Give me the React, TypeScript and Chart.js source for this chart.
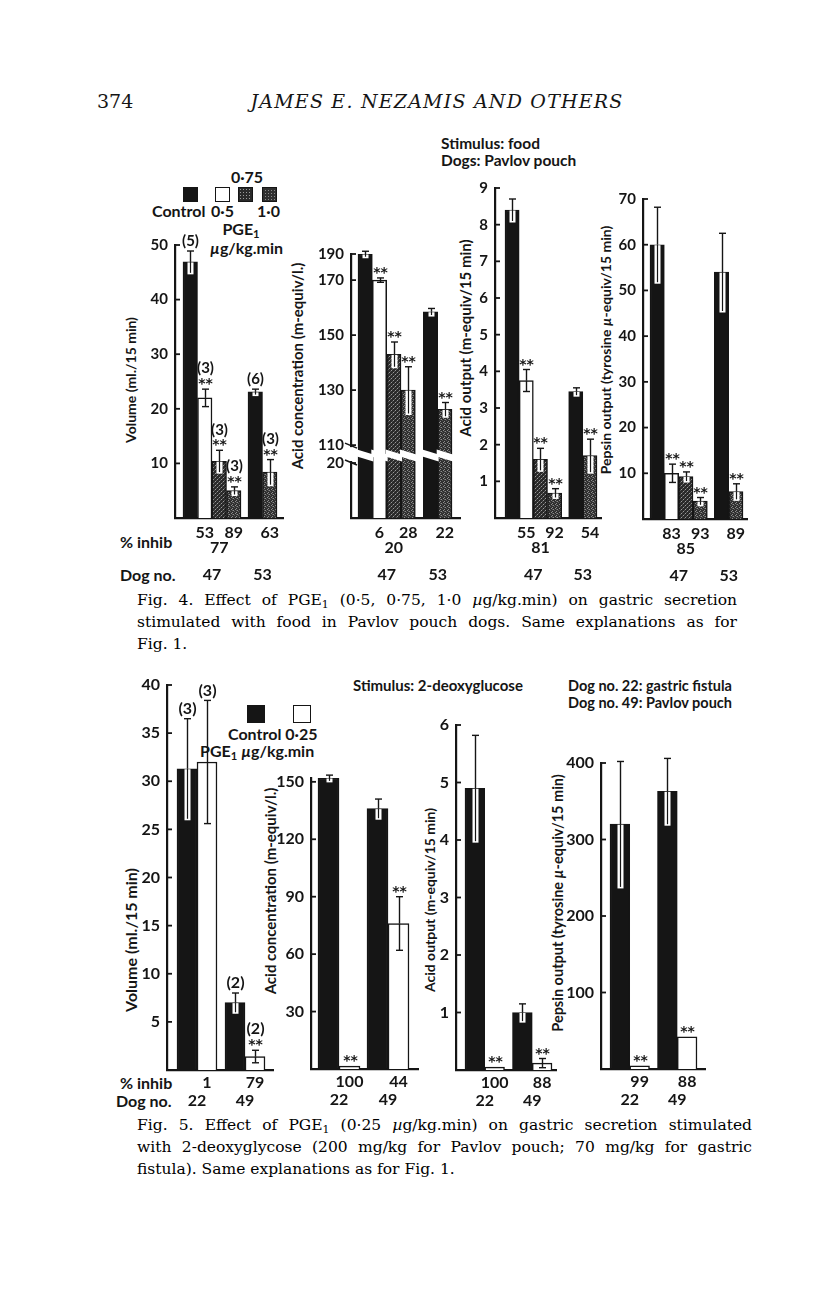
import React, { useEffect, useRef } from "react";
import { Chart, registerables } from "chart.js";

Chart.register(...registerables);

const SANS = "Lato, 'Open Sans', 'DejaVu Sans', sans-serif";
const STAR_FONT = "'DejaVu Sans', sans-serif";
const SERIF = "'DejaVu Serif', 'Liberation Serif', serif";
const INK = "#151515";

// ---------------- Fig. 4 data (stimulus: food, Pavlov pouch) ----------------
const fig4Treatments = ["Control", "0·5", "0·75", "1·0", "Control", "1·0"];
const fig4Dogs = ["47", "47", "47", "47", "53", "53"];
const fig4Stars = ["", "**", "**", "**", "", "**"];

const fig4VolumeMean = [46.9, 22, 10.4, 5.0, 23.1, 8.4];
const fig4VolumeSE = [2, 1.6, 2, 0.7, 0.5, 2.3];
const fig4VolumeN = ["(5)", "(3)", "(3)", "(3)", "(6)", "(3)"];
const fig4VolumeInhib = ["", "53", "77", "89", "", "63"];
const fig4VolumeTicks = [10, 20, 30, 40, 50];

const fig4AcidConcMean = [179.5, 170, 143, 130, 158.5, 123];
const fig4AcidConcSE = [1, 0.8, 4.5, 8.5, 1.2, 2.5];
const fig4AcidConcInhib = ["", "6", "20", "28", "", "22"];
const fig4AcidConcTicks = [20, 110, 130, 150, 170, 190];

const fig4AcidOutMean = [8.4, 3.75, 1.6, 0.68, 3.45, 1.7];
const fig4AcidOutSE = [0.3, 0.3, 0.3, 0.12, 0.1, 0.45];
const fig4AcidOutInhib = ["", "55", "81", "92", "", "54"];
const fig4AcidOutTicks = [1, 2, 3, 4, 5, 6, 7, 8, 9];

const fig4PepsinMean = [60, 10, 9.3, 3.9, 54, 6];
const fig4PepsinSE = [8.2, 2, 1, 0.8, 8.5, 1.7];
const fig4PepsinInhib = ["", "83", "85", "93", "", "89"];
const fig4PepsinTicks = [10, 20, 30, 40, 50, 60, 70];

// ---------------- Fig. 5 data (stimulus: 2-deoxyglucose) ----------------
const fig5Treatments = ["Control", "0·25", "Control", "0·25"];
const fig5Dogs = ["22", "22", "49", "49"];

const fig5VolumeMean = [31.3, 32, 7, 1.4];
const fig5VolumeSE = [5.2, 6.4, 1, 0.65];
const fig5VolumeN = ["(3)", "(3)", "(2)", "(2)"];
const fig5VolumeStars = ["", "", "", "**"];
const fig5VolumeInhib = ["", "1", "", "79"];
const fig5VolumeTicks = [5, 10, 15, 20, 25, 30, 35, 40];

const fig5AcidConcMean = [152, 1.5, 136, 76];
const fig5AcidConcSE = [1.5, 0, 5, 14];
const fig5AcidConcStars = ["", "**", "", "**"];
const fig5AcidConcInhib = ["", "100", "", "44"];
const fig5AcidConcTicks = [30, 60, 90, 120, 150];

const fig5AcidOutMean = [4.9, 0.05, 1.0, 0.12];
const fig5AcidOutSE = [0.92, 0, 0.15, 0.08];
const fig5AcidOutStars = ["", "**", "", "**"];
const fig5AcidOutInhib = ["", "100", "", "88"];
const fig5AcidOutTicks = [1, 2, 3, 4, 5, 6];

const fig5PepsinMean = [320, 4, 363, 42];
const fig5PepsinSE = [82, 0, 43, 0];
const fig5PepsinStars = ["", "**", "", "**"];
const fig5PepsinInhib = ["", "99", "", "88"];
const fig5PepsinTicks = [100, 200, 300, 400];

// broken axis of Fig. 4 acid concentration: 20 ... 110 removed
const BREAK_LOW = 20;
const BREAK_HIGH = 110;
const BREAK_GAP = 6.5;

type Spec = {
  treatments: string[];
  dogs: string[];
  mean: number[];
  se: number[];
  n?: string[];
  stars: string[];
  inhib: string[];
  ticks: number[];
  yMax: number;
  broken?: boolean;
  axisX: number;
  axisEnd: number;
  topY: number;
  baseY: number;
  firstOffset: number;
  gap: number;
  endPad: number;
  tickSize: number;
  annSize: number;
  starSize: number;
  belowSize: number;
  inhibDy: number[];
  dogDy: number;
  lowerRowTreatment?: string;
};

const LPAD = 44;
const TPAD = 44;
const RPAD = 12;
const BPAD = 70;

let patCache: Record<string, CanvasPattern | string> = {};
function pattern(kind: string): CanvasPattern | string {
  if (patCache[kind]) return patCache[kind];
  const c = document.createElement("canvas");
  c.width = 4;
  c.height = 4;
  const g = c.getContext("2d");
  if (!g) return "#444";
  g.fillStyle = kind === "a" ? "#2a2a2a" : "#303030";
  g.fillRect(0, 0, 4, 4);
  if (kind === "a") {
    g.fillStyle = "#9a9a9a";
    [[0, 0], [2, 2]].forEach(([x, y]) => g.fillRect(x, y, 1, 1));
    g.fillStyle = "#585858";
    [[3, 1], [1, 3]].forEach(([x, y]) => g.fillRect(x, y, 1, 1));
  } else {
    g.fillStyle = "#8c8c8c";
    [[0, 0], [2, 1], [1, 3]].forEach(([x, y]) => g.fillRect(x, y, 1, 1));
    g.fillStyle = "#5a5a5a";
    [[3, 2], [1, 1]].forEach(([x, y]) => g.fillRect(x, y, 1, 1));
  }
  const p = g.createPattern(c, "repeat");
  patCache[kind] = p || "#444";
  return patCache[kind];
}

function fillFor(t: string): CanvasPattern | string {
  if (t === "Control") return INK;
  if (t === "0·75") return pattern("a");
  if (t === "1·0") return pattern("b");
  return "#ffffff";
}

function brokenToAxis(v: number) {
  return v <= BREAK_LOW ? v : v - (BREAK_HIGH - BREAK_LOW - BREAK_GAP);
}

function line(ctx: CanvasRenderingContext2D, x1: number, y1: number, x2: number, y2: number) {
  ctx.beginPath();
  ctx.moveTo(x1, y1);
  ctx.lineTo(x2, y2);
  ctx.stroke();
}

function buildConfig(spec: Spec): any {
  const n = spec.mean.length;
  const groupIdx: number[] = [];
  let g = 0;
  for (let i = 0; i < n; i++) {
    if (i > 0 && spec.dogs[i] !== spec.dogs[i - 1]) g++;
    groupIdx.push(g);
  }
  const ng = g + 1;
  const plotW = spec.axisEnd - spec.axisX;
  const barW = (plotW - spec.firstOffset - spec.endPad - spec.gap * (ng - 1)) / n;
  const gapU = spec.gap / barW;
  const xs = groupIdx.map((gi, i) => i + gi * gapU);
  const xMin = -0.5 - spec.firstOffset / barW;
  const xMax = xs[n - 1] + 0.5 + spec.endPad / barW;
  const toAxis = spec.broken ? brokenToAxis : (v: number) => v;
  const fills = spec.treatments.map(fillFor);
  const tickPos = spec.ticks.map((v) => Math.min(toAxis(v), spec.yMax));
  const tickLabels = spec.ticks.map((v) => String(v));

  const decor = {
    id: "decor",
    afterDatasetsDraw(chart: any) {
      const ctx: CanvasRenderingContext2D = chart.ctx;
      const ys = chart.scales.y;
      const area = chart.chartArea;
      const meta = chart.getDatasetMeta(0);
      ctx.save();
      // inward tick marks
      ctx.strokeStyle = INK;
      ctx.lineWidth = 1.8;
      ys.ticks.forEach((t: any) => {
        const y = ys.getPixelForValue(t.value);
        line(ctx, area.left, y, area.left + 5, y);
      });
      // axis break
      if (spec.broken) {
        const yHi = ys.getPixelForValue(toAxis(BREAK_HIGH));
        const yLo = ys.getPixelForValue(BREAK_LOW);
        const yA = ys.getPixelForValue(BREAK_LOW + BREAK_GAP * 0.25) - 9;
        ctx.fillStyle = "#ffffff";
        meta.data.forEach((bar: any) => {
          const L = bar.x - bar.width / 2 - 1;
          const R = bar.x + bar.width / 2 + 1;
          ctx.beginPath();
          ctx.moveTo(L, yA);
          ctx.lineTo(R, yA + 5);
          ctx.lineTo(R, yA + 12);
          ctx.lineTo(L, yA + 7);
          ctx.closePath();
          ctx.fill();
        });
        ctx.fillRect(area.left - 3, yHi + 2, 7, yLo - yHi - 4);
        ctx.strokeStyle = INK;
        ctx.lineWidth = 1.6;
        line(ctx, area.left - 6, yHi - 2, area.left + 6, yHi + 3);
        line(ctx, area.left - 6, yLo - 3, area.left + 6, yLo + 2);
      }
      // error bars and annotations
      meta.data.forEach((bar: any, i: number) => {
        const m = spec.mean[i];
        const e = spec.se[i];
        const x = Math.round(bar.x) + 0.5;
        const yT = ys.getPixelForValue(toAxis(m));
        let top = yT;
        if (e > 0) {
          const yU = ys.getPixelForValue(toAxis(m + e));
          const yD = ys.getPixelForValue(toAxis(m - e));
          top = yU;
          ctx.strokeStyle = INK;
          ctx.lineWidth = 1.4;
          line(ctx, x, yT, x, yU);
          line(ctx, x - 3.5, yU, x + 3.5, yU);
          if (spec.treatments[i] === "0·5" || spec.treatments[i] === "0·25") {
            line(ctx, x, yT, x, yD);
            line(ctx, x - 3.5, yD, x + 3.5, yD);
          } else {
            ctx.fillStyle = "#ffffff";
            ctx.fillRect(x - 3, yT + 0.5, 6, yD - yT + 1);
            ctx.strokeStyle = INK;
            ctx.lineWidth = 1.2;
            line(ctx, x, yT, x, yD);
          }
        }
        ctx.fillStyle = INK;
        ctx.textAlign = "center";
        ctx.textBaseline = "alphabetic";
        let cy = top;
        if (spec.stars[i]) {
          ctx.font = `bold ${spec.starSize}px ${STAR_FONT}`;
          ctx.fillText(spec.stars[i], x, top - 1);
          cy = top - 14;
        } else {
          cy = top - 3;
        }
        if (spec.n && spec.n[i]) {
          ctx.font = `bold ${spec.annSize}px ${SANS}`;
          ctx.textBaseline = "bottom";
          ctx.fillText(spec.n[i], x, cy + 1);
          ctx.textBaseline = "alphabetic";
        }
      });
      // labels below bars
      ctx.font = `bold ${spec.belowSize}px ${SANS}`;
      ctx.textBaseline = "middle";
      ctx.textAlign = "center";
      meta.data.forEach((bar: any, i: number) => {
        if (!spec.inhib[i]) return;
        const row = spec.lowerRowTreatment && spec.treatments[i] === spec.lowerRowTreatment ? 1 : 0;
        ctx.fillText(spec.inhib[i], bar.x, area.bottom + spec.inhibDy[row]);
      });
      const groups: Record<string, number[]> = {};
      meta.data.forEach((bar: any, i: number) => {
        (groups[spec.dogs[i]] = groups[spec.dogs[i]] || []).push(bar.x);
      });
      Object.keys(groups).forEach((dog) => {
        const arr = groups[dog];
        const cx = (arr[0] + arr[arr.length - 1]) / 2;
        ctx.fillText(dog, cx, area.bottom + spec.dogDy);
      });
      ctx.restore();
    },
  };

  return {
    type: "bar",
    data: {
      datasets: [
        {
          data: xs.map((x, i) => ({ x, y: toAxis(spec.mean[i]) })),
          backgroundColor: fills,
          borderColor: INK,
          borderWidth: 1.5,
          borderSkipped: "bottom",
          barPercentage: 1,
          categoryPercentage: 1,
        },
      ],
    },
    options: {
      responsive: false,
      maintainAspectRatio: false,
      animation: false,
      devicePixelRatio: 1,
      events: [],
      layout: { padding: { left: 0, top: TPAD, right: RPAD, bottom: BPAD } },
      plugins: { legend: { display: false }, tooltip: { enabled: false }, title: { display: false } },
      scales: {
        x: {
          type: "linear",
          min: xMin,
          max: xMax,
          offset: false,
          grid: { display: false, drawTicks: false },
          ticks: { display: false },
          border: { display: true, width: 2.2, color: INK },
          afterFit: (s: any) => {
            s.height = 0;
          },
        },
        y: {
          type: "linear",
          min: 0,
          max: spec.yMax,
          grid: { display: false, drawTicks: false },
          border: { display: true, width: 2.2, color: INK },
          afterFit: (s: any) => {
            s.width = LPAD;
          },
          afterBuildTicks: (s: any) => {
            s.ticks = tickPos.map((v) => ({ value: v }));
          },
          ticks: {
            autoSkip: false,
            padding: 7,
            color: INK,
            font: { family: SANS, size: spec.tickSize, weight: "bold" },
            callback: (_v: any, idx: number) => tickLabels[idx],
          },
        },
      },
    },
    plugins: [decor],
  };
}

function Panel({ spec }: { spec: Spec }) {
  const ref = useRef<HTMLCanvasElement>(null);
  useEffect(() => {
    if (!ref.current) return;
    const chart = new Chart(ref.current, buildConfig(spec));
    return () => chart.destroy();
  }, []);
  const L = spec.axisX - LPAD;
  const T = spec.topY - TPAD;
  const W = spec.axisEnd - L + RPAD;
  const H = spec.baseY - spec.topY + TPAD + BPAD;
  return (
    <canvas
      ref={ref}
      width={W}
      height={H}
      style={{ position: "absolute", left: L, top: T, width: W, height: H }}
    />
  );
}

const fig4Common = {
  treatments: fig4Treatments,
  dogs: fig4Dogs,
  stars: fig4Stars,
  tickSize: 15,
  annSize: 15,
  starSize: 14,
  belowSize: 16,
  inhibDy: [15, 30],
  dogDy: 57,
  lowerRowTreatment: "0·75",
};

const fig5Common = {
  treatments: fig5Treatments,
  dogs: fig5Dogs,
  tickSize: 16,
  annSize: 16,
  starSize: 14,
  belowSize: 16,
  inhibDy: [13, 13],
  dogDy: 31,
};

const panels: Spec[] = [
  {
    ...fig4Common,
    mean: fig4VolumeMean, se: fig4VolumeSE, n: fig4VolumeN, inhib: fig4VolumeInhib,
    ticks: fig4VolumeTicks, yMax: 50,
    axisX: 175, axisEnd: 283, topY: 245, baseY: 518, firstOffset: 8, gap: 7, endPad: 6,
  },
  {
    ...fig4Common,
    mean: fig4AcidConcMean, se: fig4AcidConcSE, inhib: fig4AcidConcInhib,
    ticks: fig4AcidConcTicks, yMax: 96, broken: true,
    axisX: 351, axisEnd: 460, topY: 254, baseY: 518, firstOffset: 7, gap: 8, endPad: 8,
  },
  {
    ...fig4Common,
    mean: fig4AcidOutMean, se: fig4AcidOutSE, inhib: fig4AcidOutInhib,
    ticks: fig4AcidOutTicks, yMax: 9,
    axisX: 495, axisEnd: 601, topY: 188, baseY: 518, firstOffset: 10, gap: 7, endPad: 4,
  },
  {
    ...fig4Common,
    mean: fig4PepsinMean, se: fig4PepsinSE, inhib: fig4PepsinInhib,
    ticks: fig4PepsinTicks, yMax: 70,
    axisX: 643, axisEnd: 747, topY: 199, baseY: 519, firstOffset: 7, gap: 7, endPad: 4,
  },
  {
    ...fig5Common,
    mean: fig5VolumeMean, se: fig5VolumeSE, n: fig5VolumeN, stars: fig5VolumeStars, inhib: fig5VolumeInhib,
    ticks: fig5VolumeTicks, yMax: 40,
    axisX: 167, axisEnd: 273, topY: 685, baseY: 1070, firstOffset: 10, gap: 8, endPad: 8,
  },
  {
    ...fig5Common,
    mean: fig5AcidConcMean, se: fig5AcidConcSE, stars: fig5AcidConcStars, inhib: fig5AcidConcInhib,
    ticks: fig5AcidConcTicks, yMax: 152,
    axisX: 311, axisEnd: 418, topY: 778, baseY: 1069, firstOffset: 7, gap: 7, endPad: 9,
  },
  {
    ...fig5Common,
    mean: fig5AcidOutMean, se: fig5AcidOutSE, stars: fig5AcidOutStars, inhib: fig5AcidOutInhib,
    ticks: fig5AcidOutTicks, yMax: 6,
    axisX: 456, axisEnd: 556, topY: 725, baseY: 1070, firstOffset: 9, gap: 8, endPad: 4,
  },
  {
    ...fig5Common,
    mean: fig5PepsinMean, se: fig5PepsinSE, stars: fig5PepsinStars, inhib: fig5PepsinInhib,
    ticks: fig5PepsinTicks, yMax: 400,
    axisX: 601, axisEnd: 705, topY: 763, baseY: 1069, firstOffset: 9, gap: 8, endPad: 8,
  },
];

type TxtProps = {
  x: number;
  y: number;
  size?: number;
  weight?: number;
  family?: string;
  align?: "left" | "center" | "right";
  italic?: boolean;
  ls?: number;
  children: React.ReactNode;
};

function Txt({ x, y, size = 15, weight = 700, family = SANS, align = "left", italic = false, ls = 0, children }: TxtProps) {
  const tx = align === "center" ? "-50%" : align === "right" ? "-100%" : "0";
  return (
    <div
      style={{
        position: "absolute",
        left: x,
        top: y,
        transform: `translate(${tx}, -50%)`,
        fontSize: size,
        fontWeight: weight,
        fontFamily: family,
        fontStyle: italic ? "italic" : "normal",
        letterSpacing: ls,
        whiteSpace: "nowrap",
        lineHeight: 1.15,
        color: INK,
      }}
    >
      {children}
    </div>
  );
}

function VTitle({ x, y, size, children }: { x: number; y: number; size: number; children: React.ReactNode }) {
  return (
    <div
      style={{
        position: "absolute",
        left: x,
        top: y,
        transform: "translate(-50%, -50%) rotate(-90deg)",
        fontSize: size,
        fontWeight: 700,
        fontFamily: SANS,
        whiteSpace: "nowrap",
        lineHeight: 1.1,
        color: INK,
      }}
    >
      {children}
    </div>
  );
}

function CapLine({ x, y, w, last, children }: { x: number; y: number; w: number; last?: boolean; children: React.ReactNode }) {
  return (
    <div
      style={{
        position: "absolute",
        left: x,
        top: y - 10,
        width: w,
        height: 20,
        fontSize: 15.5,
        fontFamily: SERIF,
        lineHeight: "20px",
        textAlign: last ? "left" : "justify",
        textAlignLast: last ? "left" : "justify",
        whiteSpace: "nowrap",
        color: "#000",
      } as React.CSSProperties}
    >
      {children}
    </div>
  );
}

function Sq({ x, y, s, bg }: { x: number; y: number; s: number; bg: string }) {
  return (
    <div
      style={{
        position: "absolute",
        left: x,
        top: y,
        width: s,
        height: s,
        boxSizing: "border-box",
        border: `1.5px solid ${INK}`,
        background: bg,
      }}
    />
  );
}

const sub = { fontSize: "0.7em", verticalAlign: "-0.3em", lineHeight: 0 } as React.CSSProperties;
const patA =
  "radial-gradient(circle, #9a9a9a 0.6px, transparent 0.9px) 0 0 / 3px 3px, #2a2a2a";
const patB =
  "radial-gradient(circle, #8c8c8c 0.6px, transparent 0.9px) 1px 1px / 3px 3px, #303030";

export default function App() {
  return (
    <div style={{ position: "absolute", left: 0, top: 0, width: 816, height: 1296, background: "#fff", overflow: "hidden" }}>
      {/* page header */}
      <Txt x={97} y={102} size={19} weight={400} family={SERIF}>374</Txt>
      <Txt x={437} y={102} size={19} weight={400} family={SERIF} italic align="center" ls={1.2}>
        JAMES E. NEZAMIS AND OTHERS
      </Txt>

      {/* ---------- Fig. 4 ---------- */}
      <Txt x={441} y={144} size={15.5}>Stimulus: food</Txt>
      <Txt x={441} y={161} size={15.5}>Dogs: Pavlov pouch</Txt>

      <Txt x={247} y={177} size={16} align="center">0·75</Txt>
      <Sq x={183} y={187} s={15} bg={INK} />
      <Sq x={215} y={187} s={15} bg="#fff" />
      <Sq x={238} y={187} s={15} bg={patA} />
      <Sq x={262} y={187} s={15} bg={patB} />
      <Txt x={152} y={211} size={16}>Control</Txt>
      <Txt x={211} y={211} size={16}>0·5</Txt>
      <Txt x={257} y={211} size={16}>1·0</Txt>
      <Txt x={241} y={229} size={16} align="center">
        PGE<span style={sub}>1</span>
      </Txt>
      <Txt x={210} y={248} size={16}>
        <i>µ</i>g/kg.min
      </Txt>

      <VTitle x={131} y={380} size={14}>Volume (ml./15 min)</VTitle>
      <VTitle x={297} y={366} size={15}>Acid concentration (m-equiv/l.)</VTitle>
      <VTitle x={465} y={338} size={15}>Acid output (m-equiv/15 min)</VTitle>
      <VTitle x={606} y={350} size={14}>
        Pepsin output (tyrosine <i>µ</i>-equiv/15 min)
      </VTitle>

      <Txt x={120} y={542} size={16}>% inhib</Txt>
      <Txt x={120} y={575} size={16}>Dog no.</Txt>

      <CapLine x={137} y={600} w={600}>
        Fig. 4. Effect of PGE<span style={sub}>1</span> (0·5, 0·75, 1·0 <i>µ</i>g/kg.min) on gastric secretion
      </CapLine>
      <CapLine x={137} y={622} w={600}>
        stimulated with food in Pavlov pouch dogs. Same explanations as for
      </CapLine>
      <CapLine x={137} y={644} w={600} last>
        Fig. 1.
      </CapLine>

      {/* ---------- Fig. 5 ---------- */}
      <Txt x={353} y={686} size={15}>Stimulus: 2-deoxyglucose</Txt>
      <Txt x={568} y={686} size={14.5}>Dog no. 22: gastric fistula</Txt>
      <Txt x={568} y={703} size={14.5}>Dog no. 49: Pavlov pouch</Txt>

      <Sq x={247} y={705} s={18} bg={INK} />
      <Sq x={293} y={705} s={18} bg="#fff" />
      <Txt x={228} y={734} size={16}>Control 0·25</Txt>
      <Txt x={200} y={751} size={16}>
        PGE<span style={sub}>1</span> <i>µ</i>g/kg.min
      </Txt>

      <VTitle x={131} y={940} size={16}>Volume (ml./15 min)</VTitle>
      <VTitle x={270} y={891} size={15}>Acid concentration (m-equiv/l.)</VTitle>
      <VTitle x={430} y={900} size={14}>Acid output (m-equiv/15 min)</VTitle>
      <VTitle x={558} y={903} size={14.5}>
        Pepsin output (tyrosine <i>µ</i>-equiv/15 min)
      </VTitle>

      <Txt x={120} y={1083} size={16}>% inhib</Txt>
      <Txt x={116} y={1101} size={16}>Dog no.</Txt>

      <CapLine x={137} y={1125} w={615}>
        Fig. 5. Effect of PGE<span style={sub}>1</span> (0·25 <i>µ</i>g/kg.min) on gastric secretion stimulated
      </CapLine>
      <CapLine x={137} y={1147} w={615}>
        with 2-deoxyglycose (200 mg/kg for Pavlov pouch; 70 mg/kg for gastric
      </CapLine>
      <CapLine x={137} y={1169} w={615} last>
        fistula). Same explanations as for Fig. 1.
      </CapLine>

      {panels.map((p, i) => (
        <Panel key={i} spec={p} />
      ))}
    </div>
  );
}
